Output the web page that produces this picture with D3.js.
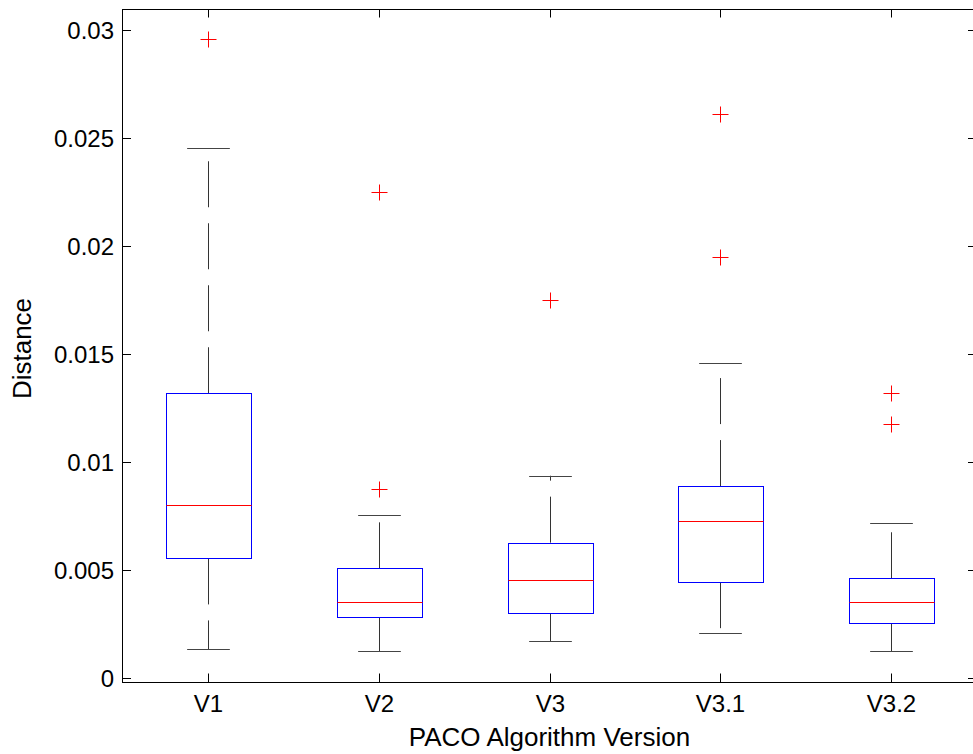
<!DOCTYPE html>
<html>
<head>
<meta charset="utf-8">
<script src="https://cdn.jsdelivr.net/npm/d3@7"></script>
<style>
  body { margin: 0; background: #fff; }
  text { font-family: "Liberation Sans", Arial, sans-serif; }
</style>
</head>
<body>
<div id="chart"></div>
<script>
// Werte
const categories = ["V1", "V2", "V3", "V3.1", "V3.2"];
const whiskerLow = [0.00134, 0.00125, 0.00171, 0.00208, 0.00125];
const q1 = [0.00554, 0.00281, 0.00300, 0.00444, 0.00253];
const median = [0.00801, 0.00353, 0.00454, 0.00727, 0.00353];
const q3 = [0.01319, 0.00508, 0.00627, 0.00889, 0.00462];
const whiskerHigh = [0.02454, 0.00755, 0.00937, 0.01458, 0.00718];
const outliers = [[0.02958], [0.0225, 0.00874], [0.01749], [0.02614, 0.01949], [0.01321, 0.01176]];
const yTicks = [0, 0.005, 0.01, 0.015, 0.02, 0.025, 0.03];

const width = 973, height = 754;
const plotLeft = 122.5, plotRight = 976.5, plotTop = 9, plotBottom = 682;

const svg = d3.select('#chart').append('svg')
  .attr('width', width).attr('height', height);

const data = categories.map((c, i) => ({
  c, lo: whiskerLow[i], q1: q1[i], med: median[i], q3: q3[i], hi: whiskerHigh[i], out: outliers[i]
}));

// x: Positionen 1..5 mit Rand 0.5 wie in MATLAB
const x = d3.scaleLinear().domain([0.5, categories.length + 0.5]).range([plotLeft, plotRight]);
const y = d3.scaleLinear().domain([-0.000185, 0.03099]).range([plotBottom, plotTop]);
const unit = x(2) - x(1);
const boxW = unit * 0.5, capW = unit * 0.25;

const g = svg.append('g');

data.forEach((d, i) => {
  const cx = Math.round(x(i + 1)) + 0.5;
  // Whisker gestrichelt, vom Kasten nach außen gezeichnet
  g.append('line')
    .attr('x1', cx).attr('x2', cx)
    .attr('y1', y(d.q3)).attr('y2', y(d.hi))
    .attr('stroke', '#333').attr('stroke-dasharray', '46,16');
  g.append('line')
    .attr('x1', cx).attr('x2', cx)
    .attr('y1', y(d.q1)).attr('y2', y(d.lo))
    .attr('stroke', '#333').attr('stroke-dasharray', '46,16');
  // Querstriche
  [d.hi, d.lo].forEach(v => {
    g.append('line')
      .attr('x1', cx - capW / 2).attr('x2', cx + capW / 2)
      .attr('y1', Math.round(y(v)) + 0.5).attr('y2', Math.round(y(v)) + 0.5)
      .attr('stroke', '#444');
  });
  // Kasten
  const bx = Math.round(cx - boxW / 2) + 0.5;
  g.append('rect')
    .attr('x', bx)
    .attr('y', Math.round(y(d.q3)) + 0.5)
    .attr('width', Math.round(boxW))
    .attr('height', Math.round(y(d.q1)) - Math.round(y(d.q3)))
    .attr('fill', 'none').attr('stroke', '#0000ff');
  // Median
  g.append('line')
    .attr('x1', bx).attr('x2', bx + Math.round(boxW))
    .attr('y1', Math.round(y(d.med)) + 0.5).attr('y2', Math.round(y(d.med)) + 0.5)
    .attr('stroke', '#ff0000');
  // Ausreißer als +
  d.out.forEach(v => {
    const oy = Math.round(y(v)) + 0.5;
    g.append('path')
      .attr('d', `M${cx - 8},${oy}H${cx + 8}M${cx},${oy - 8}V${oy + 8}`)
      .attr('stroke', '#ff0000').attr('fill', 'none');
  });
});

// Achsenrahmen
svg.append('rect')
  .attr('x', plotLeft).attr('y', plotTop + 0.5)
  .attr('width', plotRight - plotLeft).attr('height', plotBottom - plotTop)
  .attr('fill', 'none').attr('stroke', '#000');

const tickLen = 8.5;
// y-Ticks links und rechts
yTicks.forEach(t => {
  const ty = Math.round(y(t)) + 0.5;
  svg.append('line').attr('x1', plotLeft).attr('x2', plotLeft + tickLen)
    .attr('y1', ty).attr('y2', ty).attr('stroke', '#000');
  svg.append('line').attr('x1', plotRight).attr('x2', plotRight - tickLen)
    .attr('y1', ty).attr('y2', ty).attr('stroke', '#000');
  svg.append('text')
    .attr('x', 114).attr('y', ty)
    .attr('text-anchor', 'end').attr('dominant-baseline', 'central')
    .attr('font-size', 24).text(t);
});

// x-Ticks unten und oben
categories.forEach((c, i) => {
  const tx = Math.round(x(i + 1)) + 0.5;
  svg.append('line').attr('x1', tx).attr('x2', tx)
    .attr('y1', plotBottom).attr('y2', plotBottom - tickLen).attr('stroke', '#000');
  svg.append('line').attr('x1', tx).attr('x2', tx)
    .attr('y1', plotTop).attr('y2', plotTop + tickLen).attr('stroke', '#000');
  svg.append('text')
    .attr('x', tx).attr('y', 712)
    .attr('text-anchor', 'middle')
    .attr('font-size', 24).text(c);
});

// Achsenbeschriftungen
svg.append('text')
  .attr('x', (plotLeft + plotRight) / 2).attr('y', 746)
  .attr('text-anchor', 'middle').attr('font-size', 26)
  .text('PACO Algorithm Version');

svg.append('text')
  .attr('transform', `translate(31, ${(plotTop + plotBottom) / 2 + 3}) rotate(-90)`)
  .attr('text-anchor', 'middle').attr('font-size', 26)
  .text('Distance');
</script>
</body>
</html>
